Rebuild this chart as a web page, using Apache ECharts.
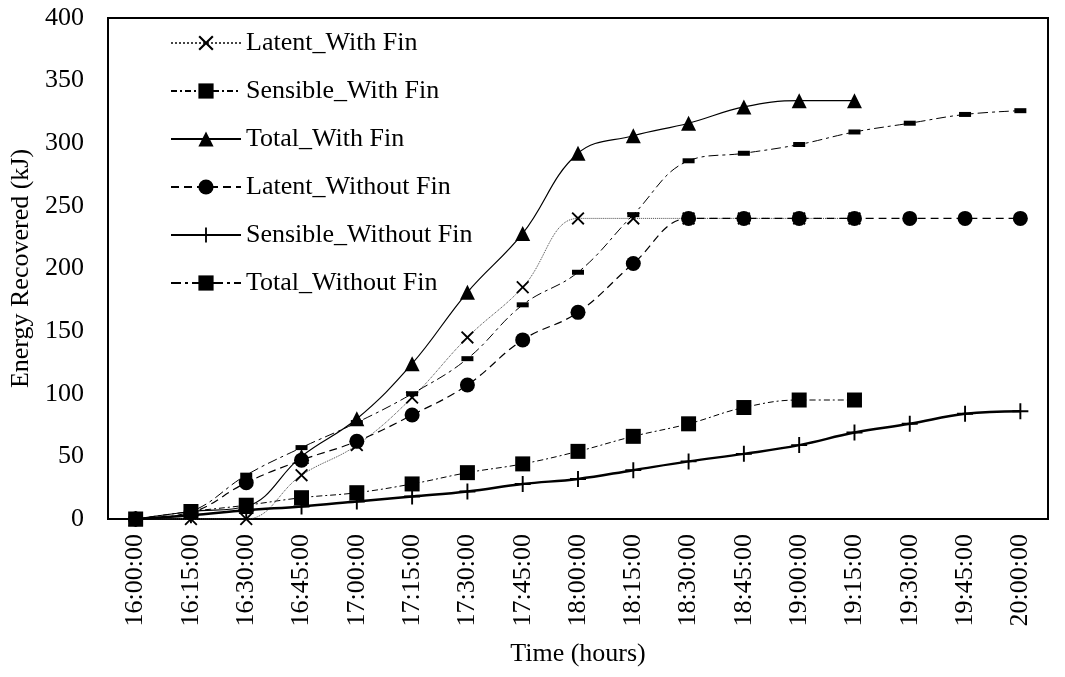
<!DOCTYPE html>
<html>
<head>
<meta charset="utf-8">
<script src="https://cdn.jsdelivr.net/npm/echarts@6/dist/echarts.min.js"></script>
<style>
  html, body { margin: 0; padding: 0; background: #fff; }
  #chart { width: 1065px; height: 677px; }
</style>
</head>
<body>
<div id="chart"></div>
<script>
// time stamps every 15 min
var times = ['16:00:00', '16:15:00', '16:30:00', '16:45:00', '17:00:00', '17:15:00', '17:30:00', '17:45:00',
  '18:00:00', '18:15:00', '18:30:00', '18:45:00', '19:00:00', '19:15:00', '19:30:00', '19:45:00', '20:00:00'];
var yTicks = [0, 50, 100, 150, 200, 250, 300, 350, 400];

// with fin runs stop at 19:15
var latentWithFin = [0, 0, 0, 35, 59, 97, 145, 185, 240, 240, 240, 240, 240, 240];
var sensibleWithFin = [0, 6, 11, 17, 21, 28, 37, 44, 54, 66, 76, 89, 95, 95];
var totalWithFin = [0, 6, 10, 50, 80, 124, 181, 228, 292, 306, 316, 329, 334, 334];
var latentWithoutFin = [0, 5, 29, 47, 62, 83, 107, 143, 165, 204, 240, 240, 240, 240, 240, 240, 240];
var sensibleWithoutFin = [0, 3, 7, 10, 14, 18, 22, 28, 32, 39, 46, 52, 59, 69, 76, 84, 86];
var totalWithoutFin = [0, 6, 35, 57, 77, 100, 128, 171, 197, 243, 286, 292, 299, 309, 316, 323, 326];

var FONT = 'Liberation Serif';
var crossPath = 'path://M0,1 L1,0 L5,4 L9,0 L10,1 L6,5 L10,9 L9,10 L5,6 L1,10 L0,9 L4,5 Z';
var plusPath = 'path://M4.4,0 L5.6,0 L5.6,4.4 L10,4.4 L10,5.6 L5.6,5.6 L5.6,10 L4.4,10 L4.4,5.6 L0,5.6 L0,4.4 L4.4,4.4 Z';
var dashPath = 'path://M0,0 L12,0 L12,5 L0,5 Z';

var chart = echarts.init(document.getElementById('chart'));

function mkSeries(name, data, symbol, symbolSize, lineStyle) {
  return {
    name: name,
    type: 'line',
    data: data,
    smooth: 0.4,
    symbol: symbol,
    symbolSize: symbolSize,
    symbolKeepAspect: true,
    showAllSymbol: true,
    itemStyle: { color: '#000' },
    lineStyle: lineStyle,
    emphasis: { disabled: true },
    animation: false
  };
}

var option = {
  backgroundColor: '#fff',
  grid: {
    left: 108,
    right: 17,
    top: 18,
    bottom: 158,
    show: true,
    borderColor: '#000',
    borderWidth: 2
  },
  legend: {
    orient: 'vertical',
    left: 165,
    top: 25,
    itemWidth: 70,
    itemHeight: 19,
    itemGap: 22,
    textStyle: { fontFamily: FONT, fontSize: 26, color: '#000' },
    data: ['Latent_With Fin', 'Sensible_With Fin', 'Total_With Fin',
      'Latent_Without Fin', 'Sensible_Without Fin', 'Total_Without Fin']
  },
  xAxis: {
    type: 'category',
    data: times,
    boundaryGap: true,
    name: 'Time (hours)',
    nameLocation: 'middle',
    nameGap: 122,
    nameTextStyle: { fontFamily: FONT, fontSize: 26, color: '#000' },
    axisLine: { lineStyle: { color: '#000', width: 2 } },
    axisTick: { show: false },
    axisLabel: {
      rotate: 90,
      interval: 0,
      margin: 15,
      fontFamily: FONT,
      fontSize: 26,
      color: '#000'
    },
    splitLine: { show: false }
  },
  yAxis: {
    type: 'value',
    min: yTicks[0],
    max: yTicks[yTicks.length - 1],
    interval: 50,
    name: 'Energy Recovered (kJ)',
    nameLocation: 'middle',
    nameGap: 70,
    nameTextStyle: { fontFamily: FONT, fontSize: 26, color: '#000' },
    axisLine: { show: true, lineStyle: { color: '#000', width: 2 } },
    axisTick: { show: false },
    axisLabel: { fontFamily: FONT, fontSize: 26, color: '#000', margin: 24 },
    splitLine: { show: false }
  },
  series: [
    mkSeries('Latent_With Fin', latentWithFin, crossPath, 13,
      { color: '#444', width: 1, type: 'dotted' }),
    mkSeries('Sensible_With Fin', sensibleWithFin, 'rect', 15,
      { color: '#000', width: 1, type: [6, 3, 2, 3] }),
    mkSeries('Total_With Fin', totalWithFin, 'triangle', 15,
      { color: '#000', width: 1.2, type: 'solid' }),
    mkSeries('Latent_Without Fin', latentWithoutFin, 'circle', 15,
      { color: '#000', width: 1.2, type: [8, 5] }),
    mkSeries('Sensible_Without Fin', sensibleWithoutFin, plusPath, 16,
      { color: '#000', width: 2.5, type: 'solid' }),
    mkSeries('Total_Without Fin', totalWithoutFin, dashPath, 12,
      { color: '#000', width: 1, type: [10, 4, 3, 4] })
  ]
};

chart.setOption(option);
</script>
</body>
</html>
